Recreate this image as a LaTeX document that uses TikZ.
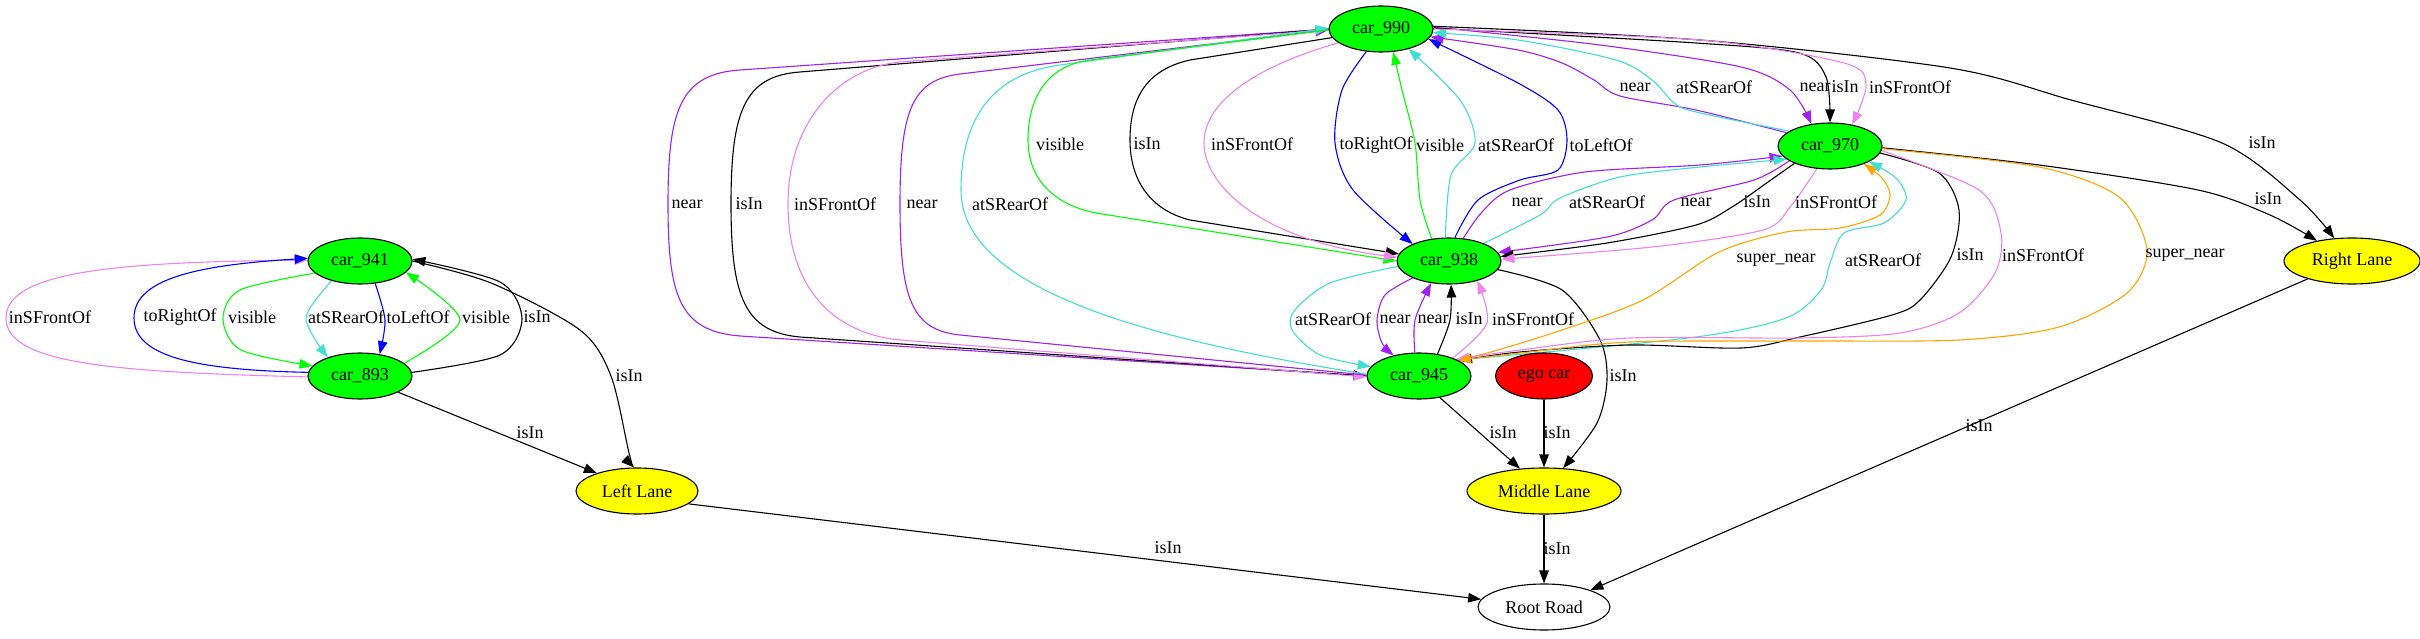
\documentclass[tikz,border=0pt]{standalone}
\usepackage{fontspec}
\setmainfont{Liberation Serif}
\usetikzlibrary{shapes.geometric,arrows.meta}
\definecolor{gvpurple}{HTML}{A020F0}
\definecolor{gvviolet}{HTML}{EE82EE}
\definecolor{gvturq}{HTML}{40E0D0}
\definecolor{gvgreen}{HTML}{00FF00}
\definecolor{gvblue}{HTML}{0000FF}
\definecolor{gvorange}{HTML}{FFA500}
\definecolor{gvyellow}{HTML}{FFFF00}
\definecolor{gvred}{HTML}{FF0000}
\newcommand\gvf{\fontsize{18}{21}\selectfont}
\pgfdeclarelayer{bg}
\pgfsetlayers{bg,main}
\tikzset{
 gnode/.style={ellipse, draw=black, line width=1.1pt, minimum height=46pt, inner sep=0pt, font=\gvf},
 carnode/.style={gnode, fill=gvgreen, minimum width=104pt},
 lanenode/.style={gnode, fill=gvyellow},
 gedge/.style={line width=1.1pt, -{Triangle[length=13pt,width=9.5pt]}},
 lbl/.style={font=\gvf, inner sep=0pt},
}
\begin{document}
\begin{tikzpicture}[x=1pt,y=-1pt]
\useasboundingbox (0,0) rectangle (2420,639);
% nodes
\node[carnode] (c990) at (1381,29) {car\_990};
\node[carnode] (c970) at (1830,146) {car\_970};
\node[carnode] (c938) at (1449,261) {car\_938};
\node[carnode] (c945) at (1419,376) {car\_945};
\node[gnode, fill=gvred, minimum width=97pt] (ego) at (1544,376) {ego car};
\node[carnode] (c941) at (360,261) {car\_941};
\node[carnode] (c893) at (360,376) {car\_893};
\node[lanenode, minimum width=122pt] (LL) at (637,491) {Left Lane};
\node[lanenode, minimum width=154pt] (ML) at (1544,491) {Middle Lane};
\node[lanenode, minimum width=136pt] (RL) at (2352,261) {Right Lane};
\node[gnode, fill=white, minimum width=132pt] (RR) at (1544,607) {Root Road};
\begin{pgfonlayer}{bg}
% left cluster
\draw[gedge,gvviolet] (c893.181) .. controls (120,372) and (6,365) .. (6,318) .. controls (6,271) and (120,262) .. (c941.179);
\draw[gedge,gvblue] (c893.176) .. controls (200,370) and (134,358) .. (134,318) .. controls (134,278) and (200,265) .. (c941.177);
\draw[gedge,gvgreen] plot[smooth] coordinates {(c941.195) (240,290) (223,319) (241,350) (c893.168)};
\draw[gedge,gvturq] plot[smooth] coordinates {(c941.215) (306,318) (c893.150)};
\draw[gedge,gvblue] plot[smooth] coordinates {(c941.-56) (385,320) (c893.48)};
\draw[gedge,gvgreen] plot[smooth] coordinates {(c893.16) (460,320) (c941.-14)};
\draw[gedge,black] plot[smooth] coordinates {(c893.4) (500,355) (522,319) (500,282) (c941.2)};
\draw[gedge,black] plot[smooth] coordinates {(c941.0) (491,283) (580,330) (611,376) (629,453) (LL.97)};
\draw[gedge,black] (c893.-23) -- (LL.156);
\draw[gedge,black] (LL.-14) -- (RR.173);
% bottom middle
\draw[gedge,black] (c945.-46) -- (ML.137);
\draw[gedge,black] (ego.south) -- (ML.north);
\draw[gedge,black] plot[smooth] coordinates {(c938.-10) (1562,290) (1600,340) (1607,380) (1597,423) (ML.50)};
\draw[gedge,black] (ML.south) -- (RR.north);
\draw[gedge,black] (RL.202) -- (RR.20);
% to right lane
\draw[gedge,black] plot[smooth] coordinates {(c990.3) (1700,40) (1950,68) (2071,100) (2222,143) (2300,200) (RL.128)};
\draw[gedge,black] plot[smooth] coordinates {(c970.-2) (2039,165) (2198,190) (2270,215) (RL.150)};
% big loops c990 - c945
\draw[gedge,gvpurple] (c990.180) -- (740,70) .. controls (680,74) and (668,110) .. (668,204) .. controls (668,298) and (680,331) .. (740,336) -- (c945.180);
\draw[gedge,black] (c990.180) -- (800,72) .. controls (745,76) and (731,110) .. (731,204) .. controls (731,298) and (745,332) .. (800,337) -- (c945.180);
\draw[gedge,gvviolet] (c990.181) -- (900,62) .. controls (840,68) and (788,120) .. (788,204) .. controls (788,285) and (830,333) .. (900,340) -- (c945.181);
\draw[gedge,gvpurple] (c945.179) -- (960,335) .. controls (912,330) and (900,300) .. (900,204) .. controls (900,110) and (912,80) .. (960,74) -- (c990.181);
\draw[gedge,gvturq] (c945.178) .. controls (1150,340) and (961,290) .. (961,190) .. controls (961,110) and (1000,73) .. (1060,65) -- (c990.179);
% loops c990 - c938
\draw[gedge,gvgreen] (c990.181) -- (1090,60) .. controls (1045,66) and (1028,100) .. (1028,140) .. controls (1028,180) and (1055,205) .. (1096,213) -- (c938.180);
\draw[gedge,black] (c990.190) -- (1190,60) .. controls (1145,70) and (1130,100) .. (1130,140) .. controls (1130,180) and (1150,210) .. (1190,220) -- (c938.172);
\draw[gedge,gvviolet] (c990.198) .. controls (1260,65) and (1204,100) .. (1204,143) .. controls (1204,185) and (1260,240) .. (c938.176);
\draw[gedge,gvblue] plot[smooth] coordinates {(c990.237) (1342,90) (1335,143) (1353,190) (c938.155)};
\draw[gedge,gvgreen] plot[smooth] coordinates {(c938.128) (1420,200) (1415,143) (1402,90) (c990.-62)};
\draw[gedge,gvturq] plot[smooth] coordinates {(c938.99) (1451,175) (1475,143) (1460,100) (c990.-36)};
\draw[gedge,gvblue] plot[smooth] coordinates {(c938.76) (1478,200) (1520,180) (1558,170) (1567,140) (1558,110) (1518,83) (c990.-12)};
% c990 - c970
\draw[gedge,gvpurple] plot[smooth] coordinates {(c970.163) (1696,110) (1620,96) (1594,80) (1562,63) (1518,50) (c990.-9)};
\draw[gedge,gvturq] plot[smooth] coordinates {(c970.160) (1696,112) (1674,103) (1652,80) (1616,60) (1518,40) (c990.-4)};
\draw[gedge,gvpurple] plot[smooth] coordinates {(c990.2) (1600,45) (1741,67) (1790,90) (c970.130)};
\draw[gedge,black] plot[smooth] coordinates {(c990.1) (1696,43) (1799,53) (1826,77) (c970.90)};
\draw[gedge,gvviolet] plot[smooth] coordinates {(c990.0) (1700,40) (1844,63) (1866,85) (c970.44)};
% c938 - c970
\draw[gedge,gvpurple] plot[smooth] coordinates {(c938.58) (1482,212) (1510,190) (1585,172) (1700,165) (c970.192)};
\draw[gedge,gvturq] plot[smooth] coordinates {(c938.27) (1540,215) (1560,198) (1620,177) (1700,167) (c970.197)};
\draw[gedge,gvpurple] plot[smooth] coordinates {(c970.200) (1754,180) (1674,200) (1652,220) (1607,237) (c938.10)};
\draw[gedge,black] plot[smooth] coordinates {(c970.206) (1768,182) (1732,207) (1696,225) (1607,243) (c938.5)};
\draw[gedge,gvviolet] plot[smooth] coordinates {(c970.240) (1808,182) (1790,207) (1763,230) (1652,247) (c938.2)};
% c938 - c945
\draw[gedge,gvturq] plot[smooth] coordinates {(c938.186) (1330,283) (1295,310) (1292,330) (1320,355) (c945.169)};
\draw[gedge,gvpurple] plot[smooth] coordinates {(c938.205) (1385,295) (1377,320) (1382,343) (c945.141)};
\draw[gedge,gvpurple] plot[smooth] coordinates {(c945.100) (1415,320) (c938.231)};
\draw[gedge,black] plot[smooth] coordinates {(c945.50) (1450,320) (c938.-85)};
\draw[gedge,gvviolet] plot[smooth] coordinates {(c945.28) (1487,323) (c938.-35)};
% c945 - c970
\draw[gedge,gvorange] plot[smooth] coordinates {(c945.23) (1491,352) (1562,330) (1643,300) (1719,252) (1786,232) (1840,228) (1880,215) (1890,195) (1882,178) (c970.-28)};
\draw[gedge,gvturq] plot[smooth] coordinates {(c945.25) (1491,357) (1696,337) (1786,318) (1821,290) (1830,263) (1844,233) (1884,223) (1906,200) (1896,178) (c970.-22)};
\draw[gedge,black] plot[smooth] coordinates {(c970.-8) (1939,173) (1959,210) (1951,257) (1920,300) (1892,315) (1800,337) (1741,348) (1630,345) (1520,352) (c945.21)};
\draw[gedge,gvviolet] plot[smooth] coordinates {(c970.-5) (1979,190) (2001,233) (1995,273) (1959,313) (1900,333) (1800,338) (1630,338) (1520,350) (c945.24)};
\draw[gedge,gvorange] plot[smooth] coordinates {(c970.-3) (2039,167) (2119,197) (2147,250) (2127,293) (2059,327) (1959,340) (1800,341) (1630,342) (1520,353) (c945.22)};
\end{pgfonlayer}
% labels
\node[lbl] (l1) at (50,317) {inSFrontOf};
\node[lbl] (l2) at (180,317) {toRightOf};
\node[lbl] (l3) at (252,317) {visible};
\node[lbl] (l4) at (346,317) {atSRearOf};
\node[lbl] (l5) at (418,317) {toLeftOf};
\node[lbl] (l6) at (486,317) {visible};
\node[lbl] (l7) at (537,317) {isIn};
\node[lbl] (l8) at (629,376) {isIn};
\node[lbl] (l9) at (530,433) {isIn};
\node[lbl] (l10) at (1168,548) {isIn};
\node[lbl] (l11) at (1503,433) {isIn};
\node[lbl] (l12) at (1557,433) {isIn};
\node[lbl] (l13) at (1623,376) {isIn};
\node[lbl] (l14) at (1557,549) {isIn};
\node[lbl] (l15) at (1979,426) {isIn};
\node[lbl] (l16) at (2262,143) {isIn};
\node[lbl] (l17) at (2268,199) {isIn};
\node[lbl] (l18) at (687,204) {near};
\node[lbl] (l19) at (749,204) {isIn};
\node[lbl] (l20) at (835,204) {inSFrontOf};
\node[lbl] (l21) at (922,204) {near};
\node[lbl] (l22) at (1010,204) {atSRearOf};
\node[lbl] (l23) at (1060,144) {visible};
\node[lbl] (l24) at (1147,144) {isIn};
\node[lbl] (l25) at (1252,144) {inSFrontOf};
\node[lbl] (l26) at (1376,145) {toRightOf};
\node[lbl] (l27) at (1440,145) {visible};
\node[lbl] (l28) at (1516,145) {atSRearOf};
\node[lbl] (l29) at (1601,145) {toLeftOf};
\node[lbl] (l30) at (1635,87) {near};
\node[lbl] (l31) at (1714,87) {atSRearOf};
\node[lbl] (l32) at (1815,87) {near};
\node[lbl] (l33) at (1845,87) {isIn};
\node[lbl] (l34) at (1910,87) {inSFrontOf};
\node[lbl] (l35) at (1527,202) {near};
\node[lbl] (l36) at (1607,202) {atSRearOf};
\node[lbl] (l37) at (1696,202) {near};
\node[lbl] (l38) at (1757,202) {isIn};
\node[lbl] (l39) at (1836,202) {inSFrontOf};
\node[lbl] (l40) at (1333,319) {atSRearOf};
\node[lbl] (l41) at (1395,319) {near};
\node[lbl] (l42) at (1433,319) {near};
\node[lbl] (l43) at (1469,319) {isIn};
\node[lbl] (l44) at (1533,319) {inSFrontOf};
\node[lbl] (l45) at (1776,260) {super\_near};
\node[lbl] (l46) at (1883,260) {atSRearOf};
\node[lbl] (l47) at (1970,255) {isIn};
\node[lbl] (l48) at (2043,255) {inSFrontOf};
\node[lbl] (l49) at (2185,255) {super\_near};
\end{tikzpicture}
\end{document}
